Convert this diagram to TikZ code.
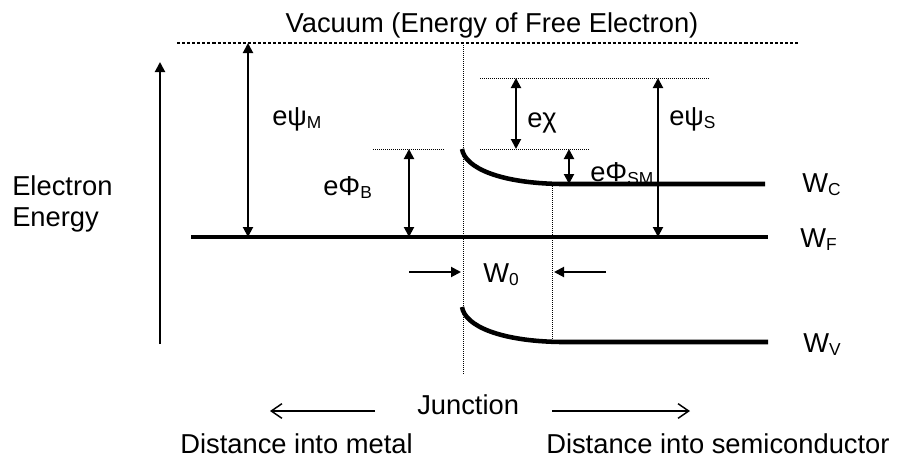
\documentclass[tikz,border=0pt]{standalone}
\usepackage{fontspec}
\setmainfont{Liberation Sans}
\usetikzlibrary{arrows.meta}
\newcommand{\lowidx}[1]{\raisebox{-2.5pt}{\fontsize{13}{13}\selectfont #1}}

\begin{document}
\begin{tikzpicture}[x=0.75pt, y=-0.75pt,
      font=\fontsize{20.5}{24}\selectfont,
      lbl/.style={inner sep=0pt},
      band/.style={line width=3.4pt},
      guide/.style={dash pattern=on 0.75pt off 0.75pt, line width=0.7pt},
      vac/.style={dash pattern=on 2.3pt off 1.5pt, line width=0.8pt},
      arr/.style={-{Triangle[length=7.5pt,width=7.5pt]}, line width=1.5pt},
      darr/.style={{Triangle[length=7.5pt,width=7.5pt]}-{Triangle[length=7.5pt,width=7.5pt]}, line width=1.5pt},
      dir/.style={-{Straight Barb[length=8pt,width=11pt]}, line width=1.1pt}
    ]
    \useasboundingbox (0,0) rectangle (897,458);

    % vacuum level
    \node[lbl, anchor=base] (title) at (492,32) {Vacuum (Energy of Free Electron)};
    \coordinate (vacL) at (177,43);
    \coordinate (vacR) at (799,43);
    \draw[vac] (vacL) -- (vacR);

    % energy axis
    \coordinate (axB) at (160,344);
    \coordinate (axT) at (160,62);
    \draw[arr] (axB) -- (axT);
    \node[lbl, anchor=base west] (elec) at (12,195) {Electron};
    \node[lbl, anchor=base west] (ener) at (12,226) {Energy};

    % junction
    \coordinate (jT) at (463,43);
    \coordinate (jB) at (463,375);
    \draw[guide] (jT) -- (jB);
    \coordinate (dT) at (552,184);
    \coordinate (dB) at (552,340);
    \draw[guide] (dT) -- (dB);

    % bands
    \coordinate (fL) at (191,237);
    \coordinate (fR) at (768,237);
    \draw[band] (fL) -- (fR);
    \coordinate (cA) at (462,149);
    \coordinate (cB) at (560,184);
    \coordinate (cR) at (765,184);
    \draw[band] (cA) .. controls (465,168) and (500,183) .. (cB) -- (cR);
    \coordinate (vA) at (462,307);
    \coordinate (vB) at (560,342);
    \coordinate (vR) at (768,342);
    \draw[band] (vA) .. controls (465,326) and (500,341) .. (vB) -- (vR);
    \node[lbl, anchor=base west] (wc) at (802,192) {W\lowidx{C}};
    \node[lbl, anchor=base west] (wf) at (800,247) {W\lowidx{F}};
    \node[lbl, anchor=base west] (wv) at (803,352) {W\lowidx{V}};

    % reference levels
    \coordinate (bL) at (373,149);
    \coordinate (bR) at (445,149);
    \draw[guide] (bL) -- (bR);
    \coordinate (sL) at (480,149);
    \coordinate (sR) at (590,149);
    \draw[guide] (sL) -- (sR);
    \coordinate (xL) at (480,78);
    \coordinate (xR) at (710,78);
    \draw[guide] (xL) -- (xR);

    % energy differences
    \coordinate (psiMT) at (248,43);
    \coordinate (psiMB) at (248,237);
    \draw[darr] (psiMT) -- (psiMB);
    \node[lbl, anchor=base west] (psiM) at (272,125) {eψ\lowidx{M}};
    \coordinate (phiBT) at (409,149);
    \coordinate (phiBB) at (409,237);
    \draw[darr] (phiBT) -- (phiBB);
    \node[lbl, anchor=base west] (phiB) at (323,195) {eΦ\lowidx{B}};
    \coordinate (chiT) at (516,78);
    \coordinate (chiB) at (516,149);
    \draw[darr] (chiT) -- (chiB);
    \node[lbl, anchor=base west] (chi) at (527,127) {eχ};
    \coordinate (smT) at (569,149);
    \coordinate (smB) at (569,184);
    \draw[darr] (smT) -- (smB);
    \node[lbl, anchor=base west] (phiSM) at (590,181) {eΦ\lowidx{SM}};
    \coordinate (psiST) at (658,78);
    \coordinate (psiSB) at (658,237);
    \draw[darr] (psiST) -- (psiSB);
    \node[lbl, anchor=base west] (psiS) at (669,125) {eψ\lowidx{S}};

    % depletion width
    \coordinate (w1) at (409,272);
    \coordinate (w2) at (461,272);
    \draw[arr] (w1) -- (w2);
    \coordinate (w3) at (606,272);
    \coordinate (w4) at (554,272);
    \draw[arr] (w3) -- (w4);
    \node[lbl, anchor=base west] (w0) at (483,282) {W\lowidx{0}};

    % directions
    \node[lbl, anchor=base west] (junc) at (417,414) {Junction};
    \coordinate (mA) at (375,411);
    \coordinate (mB) at (270,411);
    \draw[dir] (mA) -- (mB);
    \coordinate (sA) at (552,411);
    \coordinate (sB) at (690,411);
    \draw[dir] (sA) -- (sB);
    \node[lbl, anchor=base east] (metal) at (413,453) {Distance into metal};
    \node[lbl, anchor=base west] (semi) at (546,453) {Distance into semiconductor};
  \end{tikzpicture}
\end{document}
